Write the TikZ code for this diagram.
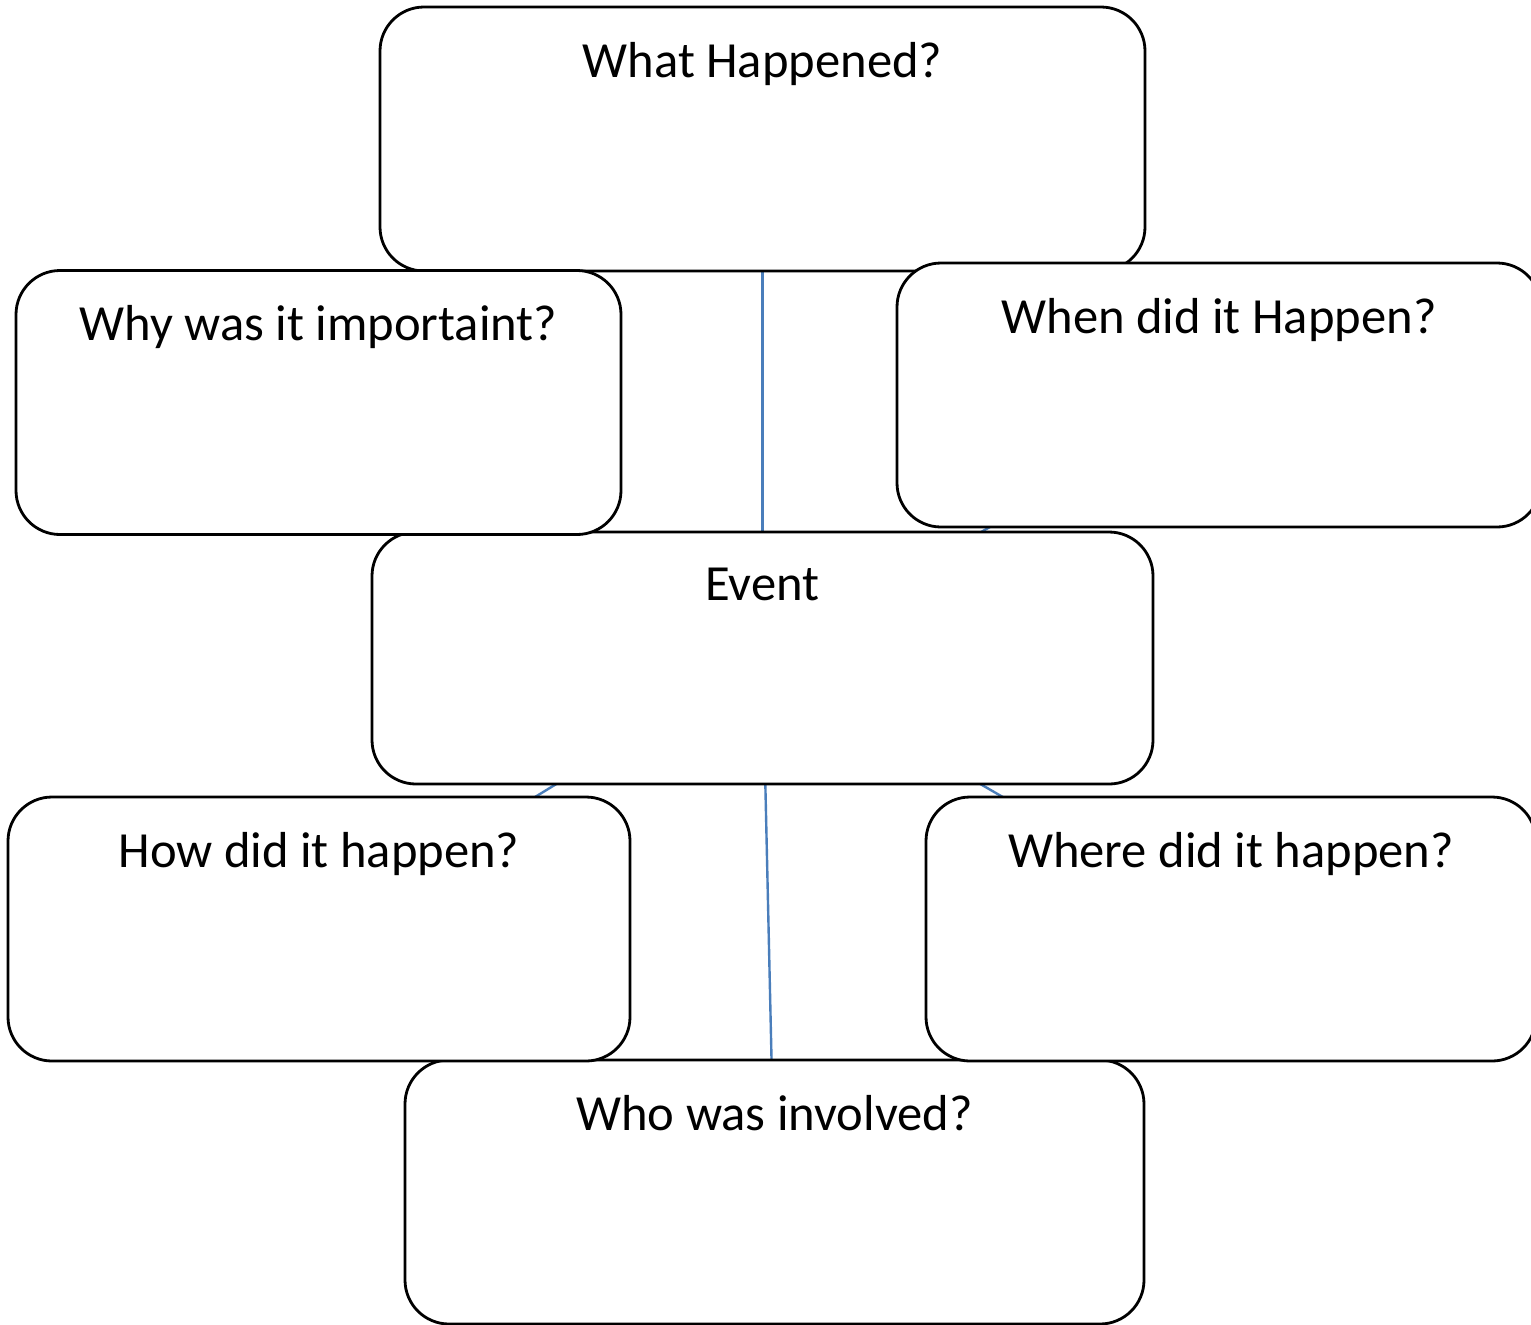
\documentclass[tikz,border=0pt]{standalone}
\usepackage{fontspec}
\setmainfont{Carlito}
\usetikzlibrary{backgrounds}
\definecolor{linkblue}{RGB}{74,126,187}

\begin{document}
\begin{tikzpicture}[x=0.5pt, y=-0.5pt, font=\fontsize{25.3}{30}\selectfont,
    qbox/.style={draw, line width=1.4pt, rounded corners=22pt, fill=white,
      minimum width=#1, inner ysep=0pt, text height=35pt, text depth=97pt},
    link/.style={draw=linkblue, line width=1.2pt}]
  \useasboundingbox (0,0) rectangle (1531,1324);
  \node[qbox=382.5pt] (what) at (762.5,139) {What Happened?};
  \node[qbox=390.5pt, text height=34pt, text depth=92pt] (event) at (762.5,658) {Event};
  \node[qbox=369.5pt] (who) at (774.5,1192) {Who was involved?};
  \node[qbox=302.5pt] (why) at (318.5,402.5) {Why was it importaint?};
  \node[qbox=322pt] (when) at (1219,395) {When did it Happen?};
  \node[qbox=311pt] (how) at (319,929) {How did it happen?};
  \node[qbox=305pt] (where) at (1231,929) {Where did it happen?};
  % links from the event to each question
  \begin{scope}[on background layer]
    \foreach \q in {what,why,when,how,where,who}
      \draw[link] (event.center) -- (\q.center);
  \end{scope}
\end{tikzpicture}
\end{document}
